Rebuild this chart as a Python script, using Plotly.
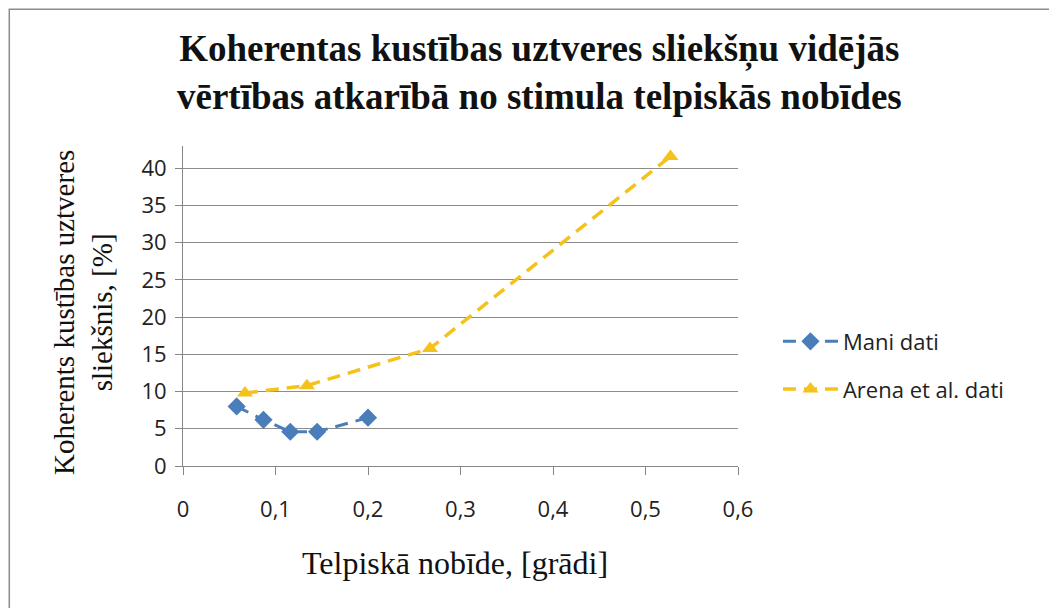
import plotly.graph_objects as go

# data
mani_x = [0.058, 0.087, 0.116, 0.145, 0.2]
mani_y = [8.0, 6.2, 4.6, 4.6, 6.5]
arena_x = [0.067, 0.134, 0.267, 0.527]
arena_y = [9.8, 10.8, 15.8, 41.6]

x_ticks = [0, 0.1, 0.2, 0.3, 0.4, 0.5, 0.6]
y_ticks = [0, 5, 10, 15, 20, 25, 30, 35, 40]

title_lines = ["Koherentas kustības uztveres sliekšņu vidējās",
               "vērtības atkarībā no stimula telpiskās nobīdes"]
y_title_lines = ["Koherents kustības uztveres", "sliekšnis, [%]"]
x_title = "Telpiskā nobīde, [grādi]"

BLUE = "#4A7EBB"
YELLOW = "#F5C21B"
SERIF = "Liberation Serif, Times New Roman, serif"
SANS = "Open Sans, DejaVu Sans, sans-serif"

fig = go.Figure()

fig.add_trace(go.Scatter(
    x=mani_x, y=mani_y, name="Mani dati", mode="lines+markers",
    legendgroup="a",
    line=dict(color=BLUE, width=3, dash="13px,8px"),
    marker=dict(symbol="diamond", size=14, color=BLUE),
))
fig.add_trace(go.Scatter(
    x=arena_x, y=arena_y, name="Arena et al. dati", mode="lines+markers",
    legendgroup="b",
    line=dict(color=YELLOW, width=3.5, dash="13px,8px"),
    marker=dict(symbol="triangle-up", size=14, color=YELLOW),
))

# the page body has an 8px margin, so the margins are 8px smaller
fig.update_layout(
    width=1057, height=608,
    margin=dict(l=175, r=327, t=138, b=150),
    plot_bgcolor="white", paper_bgcolor="white",
    separators=", ",
    showlegend=True,
    legend=dict(
        x=1.072, y=0.314, xanchor="left", yanchor="middle",
        font=dict(family=SANS, size=22, color="#222"),
        tracegroupgap=16, itemwidth=55,
    ),
)

fig.update_xaxes(
    range=[0, 0.6], tickvals=x_ticks, tickformat=".1~f",
    showgrid=False, zeroline=False,
    showline=True, linecolor="#868686", linewidth=1,
    ticks="outside", ticklen=8, tickcolor="#868686",
    tickfont=dict(family=SANS, size=22, color="#222"),
    ticklabelstandoff=16,
)
fig.update_yaxes(
    range=[0, 43], tickvals=y_ticks,
    showgrid=True, gridcolor="#8c8c8c", gridwidth=1, zeroline=False,
    showline=True, linecolor="#868686", linewidth=1,
    ticks="outside", ticklen=7, tickcolor="#868686",
    tickfont=dict(family=SANS, size=22, color="#222"),
    ticklabelstandoff=4,
)

# chart title
fig.add_annotation(
    text="<b>" + "<br>".join(title_lines) + "</b>",
    xref="paper", yref="paper", x=0.643, y=1.376,
    xanchor="center", yanchor="top", showarrow=False,
    font=dict(family=SERIF, size=37, color="#111"),
)
# axis titles
fig.add_annotation(
    text="<br>".join(y_title_lines),
    xref="paper", yref="paper", x=-0.179, y=0.48,
    xanchor="center", yanchor="middle", showarrow=False, textangle=-90,
    font=dict(family=SERIF, size=29, color="#111"),
)
fig.add_annotation(
    text=x_title,
    xref="paper", yref="paper", x=0.49, y=-0.302,
    xanchor="center", yanchor="middle", showarrow=False,
    font=dict(family=SERIF, size=32, color="#111"),
)

# chart border (only left and top are inside the picture)
fig.add_shape(
    type="rect", xref="paper", yref="paper",
    x0=-0.313, y0=-0.6, x1=1.7, y1=1.427,
    line=dict(color="#8c8c8c", width=1.5), layer="below",
)

fig.write_html("out.html")
